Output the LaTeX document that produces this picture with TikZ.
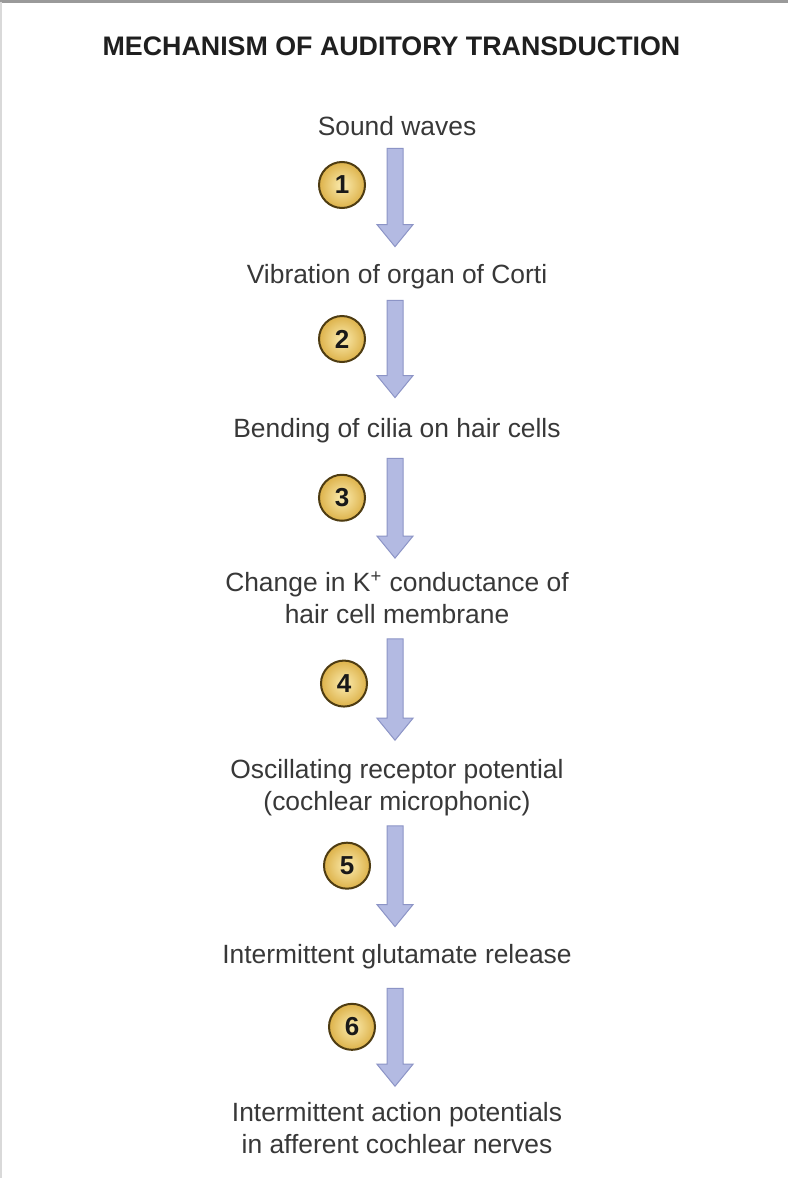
\documentclass[tikz,border=0pt]{standalone}
\usepackage{fontspec}
\setmainfont{Liberation Sans}
\usetikzlibrary{calc}

\definecolor{flowfill}{HTML}{B3BAE2}
\definecolor{flowedge}{HTML}{8C94C6}
\definecolor{badgeedge}{HTML}{4E3C12}
\definecolor{badgein}{HTML}{FBECB0}
\definecolor{badgeout}{HTML}{DDB24A}
\definecolor{stepgray}{HTML}{383838}
\definecolor{framegray}{HTML}{9A9A9A}

\begin{document}
\begin{tikzpicture}[x=0.5pt, y=-0.5pt,
  title/.style={font=\bfseries\fontsize{13.4}{16}\selectfont, text=black!88, inner sep=0pt},
  steptext/.style={font=\fontsize{13.2}{16}\selectfont, text=stepgray, align=center, inner sep=0pt,
    execute at begin node=\strut, execute at end node=\strut},
  badge/.style={circle, draw=badgeedge, line width=1pt, inner color=badgein, outer color=badgeout,
    minimum size=23pt, inner sep=0pt, font=\bfseries\fontsize{13}{13}\selectfont, text=black!90},
  flow/.style={fill=flowfill, draw=flowedge, line width=0.5pt, line join=miter}
]

% FRAME
\useasboundingbox (0,0) rectangle (788,1178);
\fill[white] (0,0) rectangle (788,1178);
\draw[framegray, line width=1.2pt] (0,1.5) -- (788,1.5);
\draw[black!15, line width=0.6pt] (1,1.5) -- (1,1178);

% TITLE
\node[title, anchor=base] (head) at (391.5,55) {MECHANISM OF AUDITORY TRANSDUCTION};

% STEPS
\node[steptext] (s0) at (397,128.6) {Sound waves};
\node[steptext] (s1) at (397,276.6) {Vibration of organ of Corti};
\node[steptext] (s2) at (397,430.6) {Bending of cilia on hair cells};
\node[steptext] (s3) at (397,602.6) {Change in K\textsuperscript{+} conductance of\\hair cell membrane};
\node[steptext] (s4) at (397,789.6) {Oscillating receptor potential\\(cochlear microphonic)};
\node[steptext] (s5) at (397,956.6) {Intermittent glutamate release};
\node[steptext] (s6) at (397,1132.6) {Intermittent action potentials\\in afferent cochlear nerves};

% ARROWS & BADGES (gaps in pt, badge offsets in px)
\foreach \i/\j/\a/\b/\dx/\dy in {0/1/1.7/6.8/-53/-12.5, 1/2/3.7/8.3/-53/-10, 2/3/5.7/6.8/-53/-10.5,
                                 3/4/2.7/9.3/-51/-6, 4/5/2.7/6.8/-48/-10.5, 5/6/7.7/7.8/-43/-10.5} {
  \coordinate (t\j) at ([xshift=-1pt,yshift=-\a pt]s\i.south);
  \coordinate (h\j) at ([xshift=-1pt,yshift=\b pt]s\j.north);
  \path[flow] ([xshift=-4pt]t\j) -- ([xshift=4pt]t\j) -- ([xshift=4pt,yshift=11pt]h\j)
    -- ([xshift=9pt,yshift=11pt]h\j) -- (h\j) -- ([xshift=-9pt,yshift=11pt]h\j)
    -- ([xshift=-4pt,yshift=11pt]h\j) -- cycle;
  \node[badge] (n\j) at ($(t\j)!0.5!(h\j)+(\dx,\dy)$) {\j};
}

\end{tikzpicture}
\end{document}
